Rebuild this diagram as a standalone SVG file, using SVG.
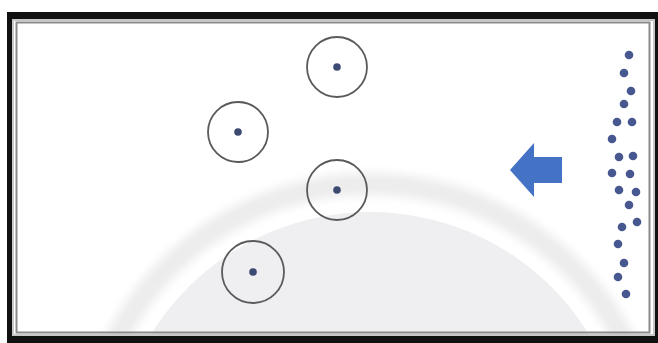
<svg xmlns="http://www.w3.org/2000/svg" width="658" height="343" viewBox="0 0 658 343">
<style>
.ring{fill:none;stroke:#5a5a5a;stroke-width:1.8}
.core{fill:#3c4a72}
.p{fill:#47578f}
</style>
<defs>
<clipPath id="inner"><rect x="14" y="21" width="639" height="313"/></clipPath>
<filter id="soft" x="-10%" y="-10%" width="120%" height="120%"><feGaussianBlur stdDeviation="5"/></filter>
</defs>
<rect x="0" y="0" width="658" height="343" fill="#ffffff"/>
<g id="frame">
<rect x="7" y="12" width="653" height="333" fill="#111111"/>
<rect x="12" y="19" width="643" height="317" fill="#c8c8c8"/>
<rect x="14" y="21" width="639" height="313" fill="#ffffff"/>
</g>
<g id="watermark" clip-path="url(#inner)">
<circle cx="370" cy="469" r="285" fill="none" stroke="#ececec" stroke-width="22" filter="url(#soft)"/>
<circle cx="370" cy="469" r="257" fill="#efeff1"/>
</g>
<rect x="16.5" y="22.5" width="633" height="310" fill="none" stroke="#8a8a8a" stroke-width="2"/>
<g id="circle1"><circle class="ring" cx="337" cy="67" r="30"/><circle class="core" cx="337" cy="67" r="3.8"/></g>
<g id="circle2"><circle class="ring" cx="238" cy="132" r="30"/><circle class="core" cx="238" cy="132" r="3.8"/></g>
<g id="circle3"><circle class="ring" cx="337" cy="190" r="30"/><circle class="core" cx="337" cy="190" r="3.8"/></g>
<g id="circle4"><circle class="ring" cx="253" cy="272" r="31"/><circle class="core" cx="253" cy="272" r="3.8"/></g>
<g id="arrow">
<polygon points="510,170 534,143 534,157 562,157 562,183 534,183 534,197" fill="#4472c4"/>
</g>
<g id="particles">
<circle class="p" cx="629" cy="55" r="4.3"/>
<circle class="p" cx="624" cy="73" r="4.3"/>
<circle class="p" cx="631" cy="91" r="4.3"/>
<circle class="p" cx="624" cy="104" r="4.3"/>
<circle class="p" cx="617" cy="122" r="4.3"/>
<circle class="p" cx="632" cy="122" r="4.3"/>
<circle class="p" cx="612" cy="139" r="4.3"/>
<circle class="p" cx="619" cy="157" r="4.3"/>
<circle class="p" cx="633" cy="156" r="4.3"/>
<circle class="p" cx="612" cy="173" r="4.3"/>
<circle class="p" cx="630" cy="174" r="4.3"/>
<circle class="p" cx="619" cy="190" r="4.3"/>
<circle class="p" cx="636" cy="192" r="4.3"/>
<circle class="p" cx="629" cy="205" r="4.3"/>
<circle class="p" cx="637" cy="222" r="4.3"/>
<circle class="p" cx="622" cy="227" r="4.3"/>
<circle class="p" cx="618" cy="244" r="4.3"/>
<circle class="p" cx="624" cy="263" r="4.3"/>
<circle class="p" cx="618" cy="277" r="4.3"/>
<circle class="p" cx="626" cy="294" r="4.3"/>
</g>
</svg>
